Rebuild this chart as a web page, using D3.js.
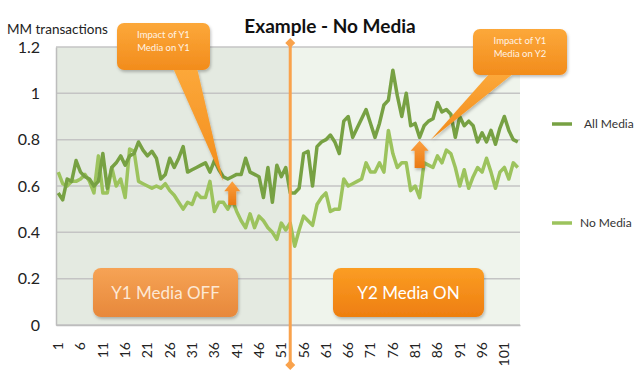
<!DOCTYPE html>
<html>
<head>
<meta charset="utf-8">
<script src="https://cdn.jsdelivr.net/npm/d3@7"></script>
<style>
  body { margin: 0; background: #fff; }
  text { font-family: Lato, "Open Sans", sans-serif; }
</style>
</head>
<body>
<div id="chart"></div>
<script>
// Chart data
const categories = d3.range(1, 105);
const allMedia = [
  0.57, 0.54, 0.63, 0.62, 0.71, 0.66, 0.64, 0.63, 0.60, 0.62,
  0.74, 0.59, 0.68, 0.70, 0.73, 0.69, 0.73, 0.74, 0.79, 0.755,
  0.73, 0.75, 0.72, 0.63, 0.65, 0.72, 0.68, 0.72, 0.77, 0.66,
  0.67, 0.68, 0.69, 0.70, 0.66, 0.71, 0.67, 0.64, 0.63, 0.64,
  0.65, 0.65, 0.72, 0.66, 0.65, 0.64, 0.55, 0.68, 0.53, 0.69,
  0.64, 0.68, 0.57, 0.57, 0.59, 0.74, 0.75, 0.60, 0.77, 0.79,
  0.80, 0.82, 0.79, 0.74, 0.88, 0.90, 0.81, 0.85, 0.89, 0.93,
  0.87, 0.81, 0.87, 0.95, 0.97, 1.10, 0.99, 0.90, 1.00, 0.86,
  0.87, 0.81, 0.86, 0.88, 0.89, 0.96, 0.92, 0.93, 0.91, 0.81,
  0.90, 0.86, 0.88, 0.86, 0.79, 0.83, 0.79, 0.84, 0.78, 0.85,
  0.90, 0.84, 0.80, 0.79
];
const noMedia = [
  0.66, 0.61, 0.60, 0.62, 0.62, 0.63, 0.65, 0.62, 0.57, 0.73,
  0.57, 0.57, 0.68, 0.60, 0.63, 0.55, 0.76, 0.75, 0.62, 0.61,
  0.60, 0.59, 0.60, 0.59, 0.61, 0.58, 0.56, 0.53, 0.50, 0.53,
  0.52, 0.57, 0.55, 0.55, 0.62, 0.49, 0.53, 0.53, 0.50, 0.54,
  0.49, 0.45, 0.42, 0.48, 0.42, 0.47, 0.45, 0.42, 0.40, 0.37,
  0.44, 0.41, 0.44, 0.34, 0.41, 0.47, 0.45, 0.43, 0.52, 0.55,
  0.57, 0.49, 0.50, 0.50, 0.63, 0.60, 0.61, 0.62, 0.63, 0.70,
  0.66, 0.66, 0.70, 0.66, 0.84, 0.74, 0.68, 0.70, 0.70, 0.58,
  0.60, 0.55, 0.70, 0.69, 0.68, 0.73, 0.70, 0.755, 0.74, 0.68,
  0.60, 0.67, 0.59, 0.64, 0.68, 0.66, 0.72, 0.66, 0.59, 0.66,
  0.68, 0.63, 0.70, 0.68
];
const yTicks = [0, 0.2, 0.4, 0.6, 0.8, 1, 1.2];
const xTicks = categories.filter(c => (c - 1) % 5 === 0);
const seriesNames = ["All Media", "No Media"];
const switchCategory = 53;

const svgWidth = 640, svgHeight = 377;
const margin = {top: 47, left: 56, right: 120, bottom: 52};

const svg = d3.select("#chart").append("svg")
  .attr("width", svgWidth)
  .attr("height", svgHeight);

const defs = svg.append("defs");
const grad = (id, c1, c2) => {
  const g = defs.append("linearGradient").attr("id", id)
    .attr("x1", 0).attr("y1", 0).attr("x2", 0).attr("y2", 1);
  g.append("stop").attr("offset", "0%").attr("stop-color", c1);
  g.append("stop").attr("offset", "100%").attr("stop-color", c2);
};
grad("orangeCallout", "#fca83a", "#f28c1c");
grad("offBox", "#f6a355", "#e7883b");
grad("onBox", "#fb9d24", "#ee7e10");
grad("arrowGrad", "#fba040", "#ea7a14");
defs.append("filter").attr("id", "shadow")
  .attr("x", "-10%").attr("y", "-10%").attr("width", "130%").attr("height", "140%")
  .append("feDropShadow")
  .attr("dx", 1).attr("dy", 2).attr("stdDeviation", 1.5)
  .attr("flood-color", "#000").attr("flood-opacity", 0.25);

// Scales
const x = d3.scaleBand()
  .domain(categories)
  .range([margin.left, svgWidth - margin.right]);
const xc = c => x(c) + x.bandwidth() / 2;
const y = d3.scaleLinear()
  .domain([0, 1.2])
  .range([svgHeight - margin.bottom, margin.top]);

const plotLeft = margin.left, plotRight = svgWidth - margin.right;
const switchX = xc(switchCategory);

// Plot background (two shaded periods)
svg.append("rect")
  .attr("x", plotLeft).attr("y", y(1.2))
  .attr("width", switchX - plotLeft).attr("height", y(0) - y(1.2))
  .attr("fill", "#e4eae1");
svg.append("rect")
  .attr("x", switchX).attr("y", y(1.2))
  .attr("width", plotRight - switchX).attr("height", y(0) - y(1.2))
  .attr("fill", "#eff4ec");

// Gridlines
svg.append("g").selectAll("line")
  .data(yTicks)
  .join("line")
  .attr("x1", plotLeft).attr("x2", plotRight)
  .attr("y1", d => y(d)).attr("y2", d => y(d))
  .attr("stroke", "#c4c4c4")
  .attr("stroke-width", 1.5);

// Y axis
const yAxis = svg.append("g")
  .attr("transform", `translate(${plotLeft},0)`)
  .call(d3.axisLeft(y).tickValues(yTicks).tickSize(0).tickPadding(16).tickFormat(d3.format("")));
yAxis.select(".domain").attr("stroke", "#bdbdbd").attr("stroke-width", 1.5);
yAxis.selectAll("text")
  .attr("font-size", 16)
  .attr("fill", "#222")
  .style("font-family", "Lato, sans-serif");

// X axis
const xAxis = svg.append("g")
  .attr("transform", `translate(0,${y(0)})`)
  .call(d3.axisBottom(x).tickValues(xTicks).tickSize(0));
xAxis.select(".domain").attr("stroke", "#bdbdbd").attr("stroke-width", 1.5);
xAxis.selectAll("text")
  .attr("font-size", 14)
  .attr("fill", "#222")
  .attr("text-anchor", "end")
  .attr("transform", "rotate(-90)")
  .attr("x", -17)
  .attr("y", 0)
  .attr("dy", "0.35em")
  .style("font-family", "Lato, sans-serif");

// Lines
const line = d3.line()
  .x((d, i) => xc(categories[i]))
  .y(d => y(d));
const colors = ["#77a143", "#9cc35d"];
[noMedia, allMedia].forEach((s, k) => {
  svg.append("path")
    .datum(s)
    .attr("fill", "none")
    .attr("stroke", k === 0 ? colors[1] : colors[0])
    .attr("stroke-width", 3.5)
    .attr("stroke-linejoin", "round")
    .attr("d", line);
});

// Vertical switch line with diamonds
const lineTop = 43, lineBottom = 365;
svg.append("line")
  .attr("x1", switchX).attr("x2", switchX)
  .attr("y1", lineTop).attr("y2", lineBottom)
  .attr("stroke", "#f9a24c")
  .attr("stroke-width", 3);
[lineTop, lineBottom].forEach(yy => {
  svg.append("path")
    .attr("d", `M${switchX},${yy - 5} L${switchX + 5},${yy} L${switchX},${yy + 5} L${switchX - 5},${yy} Z`)
    .attr("fill", "#f9a24c");
});

// Title and axis label
svg.append("text")
  .attr("x", 330).attr("y", 33)
  .attr("text-anchor", "middle")
  .attr("font-size", 19)
  .attr("font-weight", "bold")
  .attr("fill", "#111")
  .text("Example - No Media");
svg.append("text")
  .attr("x", 7).attr("y", 34)
  .attr("font-size", 13.5)
  .attr("fill", "#222")
  .text("MM transactions");

// Legend
const legendY = [124, 223];
seriesNames.forEach((name, i) => {
  svg.append("line")
    .attr("x1", 552).attr("x2", 572)
    .attr("y1", legendY[i]).attr("y2", legendY[i])
    .attr("stroke", colors[i])
    .attr("stroke-width", 3.5);
  svg.append("text")
    .attr("x", i === 0 ? 584 : 580).attr("y", legendY[i] + 4)
    .attr("font-size", 12)
    .attr("fill", "#333")
    .text(name);
});

// Up arrows
const upArrow = (cx, tipY, headW, headH, shaftW, bottomY) => {
  svg.append("path")
    .attr("d", `M${cx},${tipY} L${cx + headW / 2},${tipY + headH} L${cx + shaftW / 2},${tipY + headH}
      L${cx + shaftW / 2},${bottomY} L${cx - shaftW / 2},${bottomY} L${cx - shaftW / 2},${tipY + headH}
      L${cx - headW / 2},${tipY + headH} Z`)
    .attr("fill", "url(#arrowGrad)")
    .attr("filter", "url(#shadow)");
};
upArrow(xc(40), y(0.62), 16, 10, 8, 205);
upArrow(xc(82), y(0.795), 18, 10, 10, 168);

// Callouts
const callout = (bx, by, bw, bh, t1, t2, tip, tx1, tx2) => {
  const g = svg.append("g").attr("filter", "url(#shadow)");
  g.append("path")
    .attr("d", `M${tx1},${by + bh - 2} L${tip[0]},${tip[1]} L${tx2},${by + bh - 2} Z`)
    .attr("fill", "url(#orangeCallout)");
  g.append("rect")
    .attr("x", bx).attr("y", by).attr("width", bw).attr("height", bh)
    .attr("rx", 7)
    .attr("fill", "url(#orangeCallout)");
  [t1, t2].forEach((t, i) => {
    svg.append("text")
      .attr("x", bx + bw / 2).attr("y", by + 15 + i * 13)
      .attr("text-anchor", "middle")
      .attr("font-size", 9.5)
      .attr("fill", "#fff3e6")
      .text(t);
  });
};
callout(117, 23, 93, 47, "Impact of Y1", "Media on Y1", [xc(38), y(0.62)], 173, 197);
callout(473, 29, 94, 46, "Impact of Y1", "Media on Y2", [(xc(84) + xc(85)) / 2, y(0.8)], 490, 514);

// Period boxes
const periodBox = (bx, bw, label, fill, color) => {
  svg.append("rect")
    .attr("x", bx).attr("y", 268).attr("width", bw).attr("height", 49)
    .attr("rx", 8)
    .attr("fill", fill)
    .attr("filter", "url(#shadow)");
  svg.append("text")
    .attr("x", bx + bw / 2).attr("y", 299)
    .attr("text-anchor", "middle")
    .attr("font-size", 17)
    .attr("fill", color)
    .text(label);
};
periodBox(93, 145, "Y1 Media OFF", "url(#offBox)", "#fde8d4");
periodBox(333, 151, "Y2 Media ON", "url(#onBox)", "#ffffff");
</script>
</body>
</html>
